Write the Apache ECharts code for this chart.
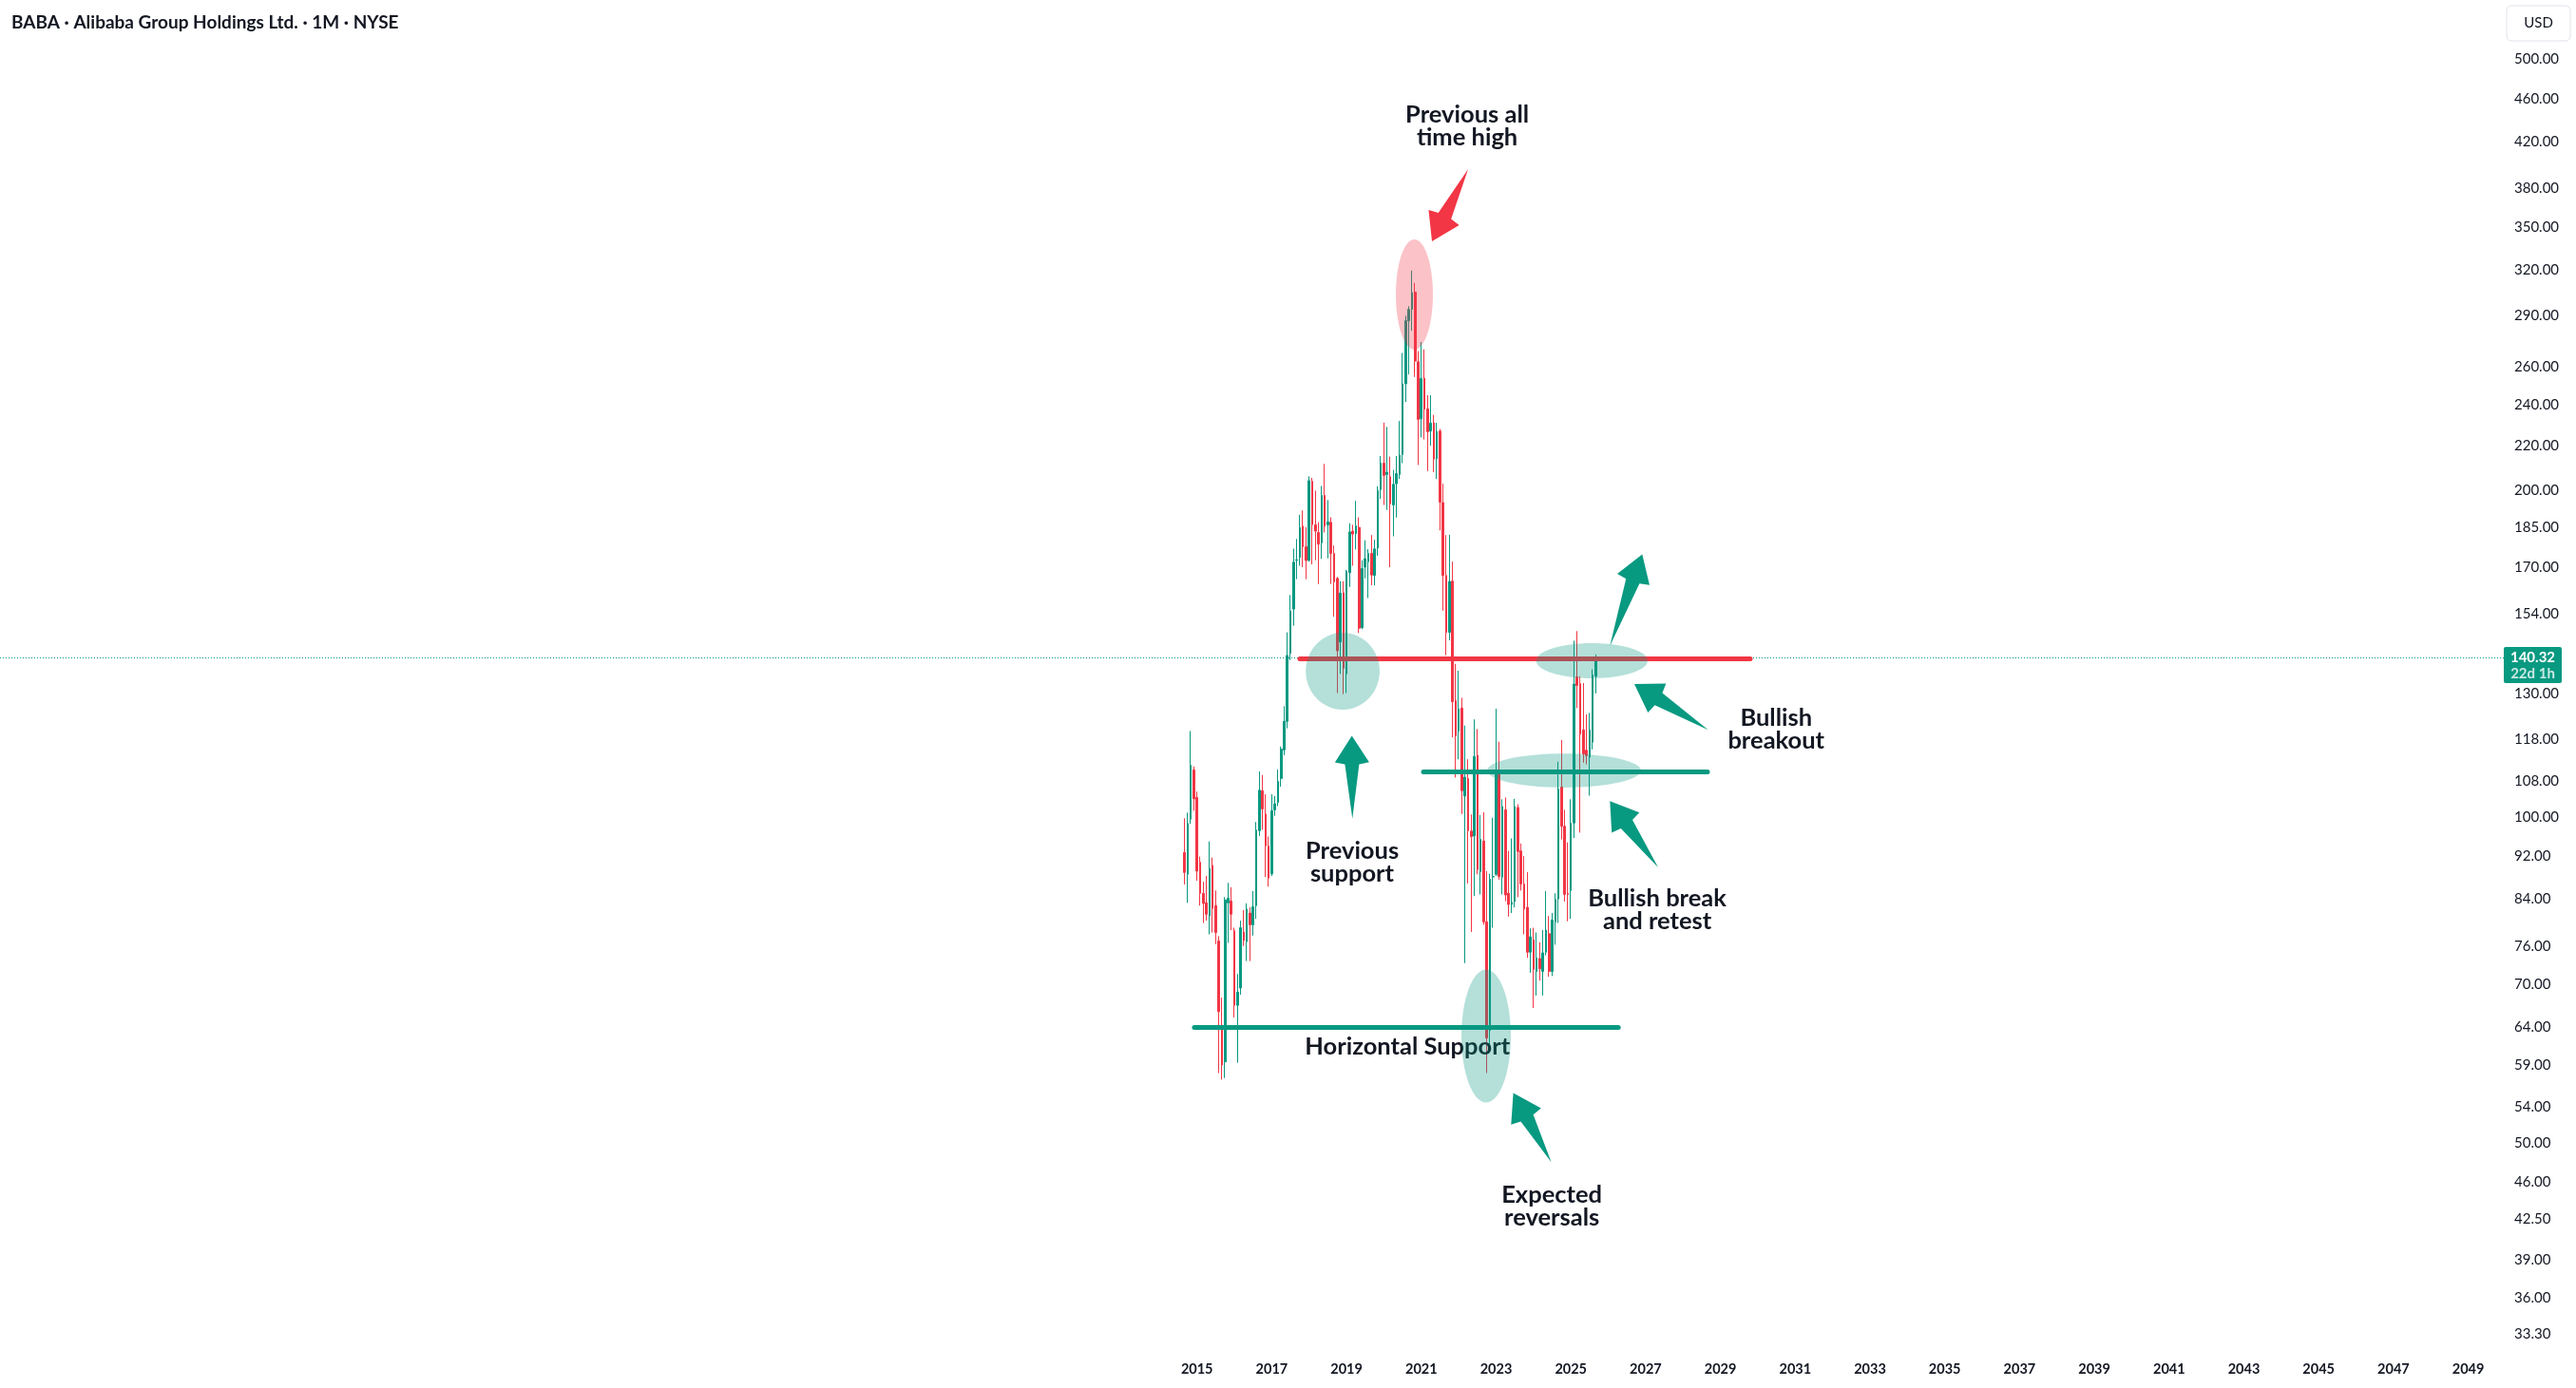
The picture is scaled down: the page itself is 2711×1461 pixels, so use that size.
<!DOCTYPE html>
<html><head><meta charset="utf-8">
<script src="https://cdn.jsdelivr.net/npm/echarts@6/dist/echarts.min.js"></script>
<style>html,body{margin:0;padding:0;background:#fff}#c{width:2711px;height:1461px}</style>
</head><body><div id="c"></div>
<script>
// ---- data (monthly OHLC, BABA, NYSE) ----
const months = ['2014-09','2014-10','2014-11','2014-12',
'2015-01','2015-02','2015-03','2015-04','2015-05','2015-06','2015-07','2015-08','2015-09','2015-10','2015-11','2015-12',
'2016-01','2016-02','2016-03','2016-04','2016-05','2016-06','2016-07','2016-08','2016-09','2016-10','2016-11','2016-12',
'2017-01','2017-02','2017-03','2017-04','2017-05','2017-06','2017-07','2017-08','2017-09','2017-10','2017-11','2017-12',
'2018-01','2018-02','2018-03','2018-04','2018-05','2018-06','2018-07','2018-08','2018-09','2018-10','2018-11','2018-12',
'2019-01','2019-02','2019-03','2019-04','2019-05','2019-06','2019-07','2019-08','2019-09','2019-10','2019-11','2019-12',
'2020-01','2020-02','2020-03','2020-04','2020-05','2020-06','2020-07','2020-08','2020-09','2020-10','2020-11','2020-12',
'2021-01','2021-02','2021-03','2021-04','2021-05','2021-06','2021-07','2021-08','2021-09','2021-10','2021-11','2021-12',
'2022-01','2022-02','2022-03','2022-04','2022-05','2022-06','2022-07','2022-08','2022-09','2022-10','2022-11','2022-12',
'2023-01','2023-02','2023-03','2023-04','2023-05','2023-06','2023-07','2023-08','2023-09','2023-10','2023-11','2023-12',
'2024-01','2024-02','2024-03','2024-04','2024-05','2024-06','2024-07','2024-08','2024-09','2024-10','2024-11','2024-12',
'2025-01','2025-02','2025-03','2025-04','2025-05','2025-06','2025-07','2025-08','2025-09'];
const opens = [92.7,88.5,99.5,110.5,
104.2,90.8,85.0,83.3,81.0,90.2,82.8,76.8,64.2,59.4,83.3,83.6,
78.5,67.0,69.5,78.3,76.7,81.5,79.5,82.8,97.1,105.7,100.6,94.0,
88.6,101.5,103.1,108.5,115.3,122.5,141.6,155.5,172.5,173.5,185.5,177.5,
172.5,204.0,186.0,183.0,179.0,198.0,186.0,187.0,175.0,166.0,145.0,161.0,
135.5,168.0,183.5,182.5,185.0,149.5,170.0,172.0,175.0,167.0,177.0,200.5,
212.0,207.0,206.0,194.0,203.0,207.0,216.0,251.0,287.0,294.0,305.0,263.0,
233.0,254.0,238.0,227.0,231.0,214.0,227.0,195.0,167.0,148.0,165.0,128.0,
120.0,126.0,104.5,108.5,97.0,96.0,114.0,89.0,95.0,80.0,63.5,88.0,
88.5,110.0,88.0,101.5,85.0,83.0,83.5,102.0,93.0,86.7,82.5,75.0,
77.0,72.0,74.0,72.0,75.0,78.0,72.0,80.0,84.0,106.5,98.0,85.0,
85.5,98.7,134.6,132.7,120.3,115.2,113.5,117.2,134.8];
const highs = [99.7,100.9,120.0,111.3,
105.5,91.9,87.1,88.2,94.9,91.7,85.5,77.6,68.1,84.3,86.9,86.1,
79.0,71.6,80.2,82.0,83.2,82.5,85.4,98.9,110.1,109.3,104.9,95.9,
104.9,104.5,110.6,116.1,126.5,148.0,160.2,176.8,180.5,190.0,191.75,185.0,
206.2,205.5,200.0,187.0,202.0,211.7,196.0,189.0,178.0,166.5,165.0,165.0,
169.0,186.6,186.0,195.7,189.0,172.5,180.0,176.6,182.0,180.2,201.9,215.3,
231.1,229.0,215.0,209.0,215.3,231.9,268.0,290.0,296.0,319.3,311.0,269.0,
274.3,270.0,245.0,245.0,235.0,231.0,228.0,203.0,182.0,182.1,172.0,138.4,
136.4,128.8,121.4,113.0,100.5,123.0,120.5,100.4,101.0,89.1,88.6,99.8,
125.84,117.3,103.8,104.2,93.0,95.5,103.9,102.7,94.5,92.0,88.9,78.9,
79.0,78.2,76.6,78.6,85.4,81.0,81.5,85.0,112.4,117.7,101.5,94.7,
103.8,145.4,148.4,134.8,132.9,124.3,124.7,136.8,141.2];
const lows = [86.6,83.3,98.5,101.3,
87.3,82.8,79.8,80.2,77.9,78.2,76.3,58.0,57.2,57.4,76.5,78.6,
65.3,59.3,68.5,76.0,73.6,73.6,77.7,80.5,96.0,97.3,88.0,86.2,
88.2,100.2,102.3,106.6,114.0,120.7,139.5,150.1,165.7,170.5,170.0,165.7,
172.0,171.0,172.5,164.0,173.0,183.0,173.2,164.0,153.0,130.1,135.5,129.8,
130.1,163.0,170.5,176.5,147.8,149.0,166.0,159.2,163.6,163.5,174.2,196.5,
194.0,192.0,169.95,181.5,188.9,205.0,212.0,241.5,256.0,281.0,254.7,211.2,
224.0,223.0,208.5,220.0,208.0,205.0,183.8,155.0,141.0,145.5,118.4,108.7,
113.0,100.6,73.28,86.8,78.3,84.5,88.5,84.8,79.5,58.01,61.7,79.0,
88.2,87.5,84.8,83.6,80.9,81.5,82.5,84.3,85.5,77.9,74.1,71.8,
66.6,68.4,70.6,68.4,74.5,71.2,71.3,76.2,79.8,95.3,83.5,80.1,
80.5,95.6,126.0,96.7,112.2,111.8,104.6,115.4,130.0];
const closes = [88.85,98.6,111.6,103.9,
89.1,85.0,83.2,81.3,89.6,82.3,78.2,66.1,59.0,83.8,84.1,81.3,
67.0,68.9,79.0,76.9,82.2,79.5,82.6,97.2,105.8,101.7,94.0,87.8,
101.3,102.8,107.8,115.5,122.5,140.9,154.9,171.8,172.7,184.9,177.5,172.4,
204.3,186.1,183.5,178.5,198.0,185.5,187.2,175.0,164.8,142.3,160.9,137.1,
168.5,183.2,182.4,185.6,149.3,169.5,173.1,175.0,167.2,176.7,200.0,212.1,
206.6,208.0,194.5,202.7,207.4,215.7,251.0,287.0,294.0,304.7,263.4,232.7,
253.8,237.8,226.7,230.9,213.9,226.8,195.2,167.0,148.0,164.9,127.7,118.8,
125.8,105.7,108.8,97.1,95.9,113.7,89.4,95.3,80.0,62.5,87.6,88.1,
110.2,88.1,102.2,84.7,83.0,83.4,102.2,92.9,86.7,82.2,75.0,77.5,
72.3,74.1,72.4,74.9,78.6,72.0,80.3,83.9,106.1,98.0,84.8,84.8,
98.7,132.6,132.2,119.2,114.3,113.9,120.3,135.2,140.32];
const priceTicks = [500,460,420,380,350,320,290,260,240,220,200,185,170,154,140,130,118,108,100,92,84,76,70,64,59,54,50,46,42.5,39,36,33.3];
const yearTicks = [2015,2017,2019,2021,2023,2025,2027,2029,2031,2033,2035,2037,2039,2041,2043,2045,2047,2049];
const lastPrice = 140.32;
const lastPriceNote = '22d 1h';
const titleText = 'BABA · Alibaba Group Holdings Ltd. · 1M · NYSE';

// ---- drawings (in time / price coordinates) ----
const GREEN = '#089981', RED = '#F23645';
const levels = [
  {from: 2017.752, to: 2029.798, price: 140, color: RED},
  {from: 2021.056, to: 2028.654, price: 110, color: GREEN},
  {from: 2014.93, to: 2026.27, price: 64, color: GREEN}
];
const zones = [
  {x1: 2017.91, x2: 2019.885, p1: 147.9, p2: 125.6, color: 'rgba(8,153,129,0.3)'},
  {x1: 2024.072, x2: 2027.053, p1: 144.6, p2: 134.2, color: 'rgba(8,153,129,0.3)'},
  {x1: 2022.759, x2: 2026.876, p1: 114.4, p2: 106.4, color: 'rgba(8,153,129,0.3)'},
  {x1: 2022.073, x2: 2023.394, p1: 72.3, p2: 54.5, color: 'rgba(8,153,129,0.3)'},
  {x1: 2020.319, x2: 2021.31, p1: 341.1, p2: 269.9, color: 'rgba(242,54,69,0.3)'}
];
const arrows = [
  {from: [2022.253, 396.1], to: [2021.285, 339.7], color: RED},
  {from: [2019.157, 99.6], to: [2019.142, 118.8], color: GREEN},
  {from: [2026.045, 143.8], to: [2026.909, 174.7], color: GREEN},
  {from: [2028.672, 120.3], to: [2026.698, 132.6], color: GREEN},
  {from: [2027.333, 89.8], to: [2026.045, 103.4], color: GREEN},
  {from: [2024.476, 48.0], to: [2023.46, 55.6], color: GREEN}
];
const notes = [
  {text: 'Previous all\ntime high', at: [2022.227, 433.7]},
  {text: 'Previous\nsupport', at: [2019.15, 90.7]},
  {text: 'Horizontal Support', at: [2020.63, 61.3]},
  {text: 'Bullish\nbreakout', at: [2030.49, 120.4]},
  {text: 'Bullish break\nand retest', at: [2027.31, 82.0]},
  {text: 'Expected\nreversals', at: [2024.49, 43.7]}
];

// visible range of the chart
const X_MIN = 1982.987, X_MAX = 2050.027, Y_MIN = 31.88, Y_MAX = 567.4;

const candleData = months.map((m, i) => {
  const [y, mo] = m.split('-').map(Number);
  return [y + (mo - 1) / 12, opens[i], closes[i], lows[i], highs[i]];
});

const chart = echarts.init(document.getElementById('c'), null, {renderer: 'canvas'});
const TXT = '#131722';
const option = {
  animation: false,
  backgroundColor: '#ffffff',
  title: {
    text: titleText, left: 12, top: 14, padding: 0,
    textStyle: {fontFamily: 'Lato', fontWeight: 'bold', fontSize: 19, lineHeight: 20, color: TXT}
  },
  grid: {left: 0, right: 73, top: 0, bottom: 35},
  xAxis: {
    type: 'value', min: X_MIN, max: X_MAX,
    axisLine: {show: false}, axisTick: {show: false}, splitLine: {show: false},
    axisLabel: {customValues: yearTicks, formatter: v => String(Math.round(v)),
      fontFamily: 'Lato', fontWeight: 'bold', fontSize: 14.5, color: TXT, margin: 8}
  },
  yAxis: {
    type: 'log', position: 'right', min: Y_MIN, max: Y_MAX,
    axisLine: {show: false}, axisTick: {show: false}, splitLine: {show: false},
    axisLabel: {customValues: priceTicks, formatter: v => Number(v).toFixed(2),
      fontFamily: 'Lato', fontSize: 15, color: TXT, margin: 8}
  },
  series: [{
    type: 'candlestick',
    data: candleData,
    encode: {x: 0, y: [1, 2, 3, 4]},
    barWidth: 2.1,
    itemStyle: {color: GREEN, color0: RED, borderColor: GREEN, borderColor0: RED, borderWidth: 1},
    markLine: {
      silent: true, symbol: ['none', 'none'], label: {show: false},
      data: [
        {yAxis: lastPrice, lineStyle: {color: GREEN, width: 1, type: [1, 2]}}
      ].concat(levels.map(l => [
        {coord: [l.from, l.price], lineStyle: {color: l.color, width: 5, type: 'solid', cap: 'round'}},
        {coord: [l.to, l.price]}
      ]))
    }
  }]
};
chart.setOption(option);

const P = (x, y) => chart.convertToPixel({xAxisIndex: 0, yAxisIndex: 0}, [x, y]);
const g = [];
notes.forEach(n => {
  const p = P(n.at[0], n.at[1]);
  g.push({type: 'text', z: 100, silent: true,
    style: {text: n.text, x: p[0], y: p[1], align: 'center', verticalAlign: 'middle',
      fontFamily: 'Lato', fontWeight: 'bold', fontSize: 25.5, lineHeight: 24, fill: TXT}});
});
zones.forEach(zn => {
  const a = P(zn.x1, zn.p1), b = P(zn.x2, zn.p2);
  g.push({type: 'ellipse', z: 110, silent: true,
    shape: {cx: (a[0] + b[0]) / 2, cy: (a[1] + b[1]) / 2, rx: Math.abs(b[0] - a[0]) / 2, ry: Math.abs(b[1] - a[1]) / 2},
    style: {fill: zn.color}});
});
arrows.forEach(ar => {
  const T = P(ar.from[0], ar.from[1]), H = P(ar.to[0], ar.to[1]);
  const dx = H[0] - T[0], dy = H[1] - T[1], L = Math.hypot(dx, dy);
  const ux = dx / L, uy = dy / L, nx = -uy, ny = ux;
  const hl = 28, hw = 18, sw = 7.5;
  const bx = H[0] - ux * hl, by = H[1] - uy * hl;
  const jx = H[0] - ux * (hl + 2), jy = H[1] - uy * (hl + 2);
  g.push({type: 'polygon', z: 120, silent: true,
    shape: {points: [
      [H[0], H[1]], [bx + nx * hw, by + ny * hw], [jx + nx * sw, jy + ny * sw],
      [T[0], T[1]], [jx - nx * sw, jy - ny * sw], [bx - nx * hw, by - ny * hw]
    ]},
    style: {fill: ar.color}});
});
// price scale chrome
const gridRight = P(X_MAX, Y_MIN)[0];
const yLast = P(X_MIN, lastPrice)[1];
g.push({type: 'rect', z: 130, silent: true,
  shape: {x: gridRight - 3, y: yLast - 11, width: 61, height: 38, r: 2}, style: {fill: GREEN}});
g.push({type: 'text', z: 131, silent: true,
  style: {text: lastPrice.toFixed(2), x: gridRight + 27.5, y: yLast, align: 'center', verticalAlign: 'middle',
    fontFamily: 'Lato', fontWeight: 'bold', fontSize: 15, fill: '#ffffff'}});
g.push({type: 'text', z: 131, silent: true,
  style: {text: lastPriceNote, x: gridRight + 27.5, y: yLast + 17, align: 'center', verticalAlign: 'middle',
    fontFamily: 'Lato', fontWeight: 'bold', fontSize: 15, fill: 'rgba(255,255,255,0.78)'}});
g.push({type: 'rect', z: 130, silent: true,
  shape: {x: gridRight, y: 6, width: 67, height: 37, r: 5}, style: {fill: '#ffffff', stroke: '#E0E3EB', lineWidth: 1}});
g.push({type: 'text', z: 131, silent: true,
  style: {text: 'USD', x: gridRight + 33.5, y: 24.5, align: 'center', verticalAlign: 'middle',
    fontFamily: 'Lato', fontSize: 15, fill: TXT}});
chart.setOption({graphic: g});
</script>
</body></html>
